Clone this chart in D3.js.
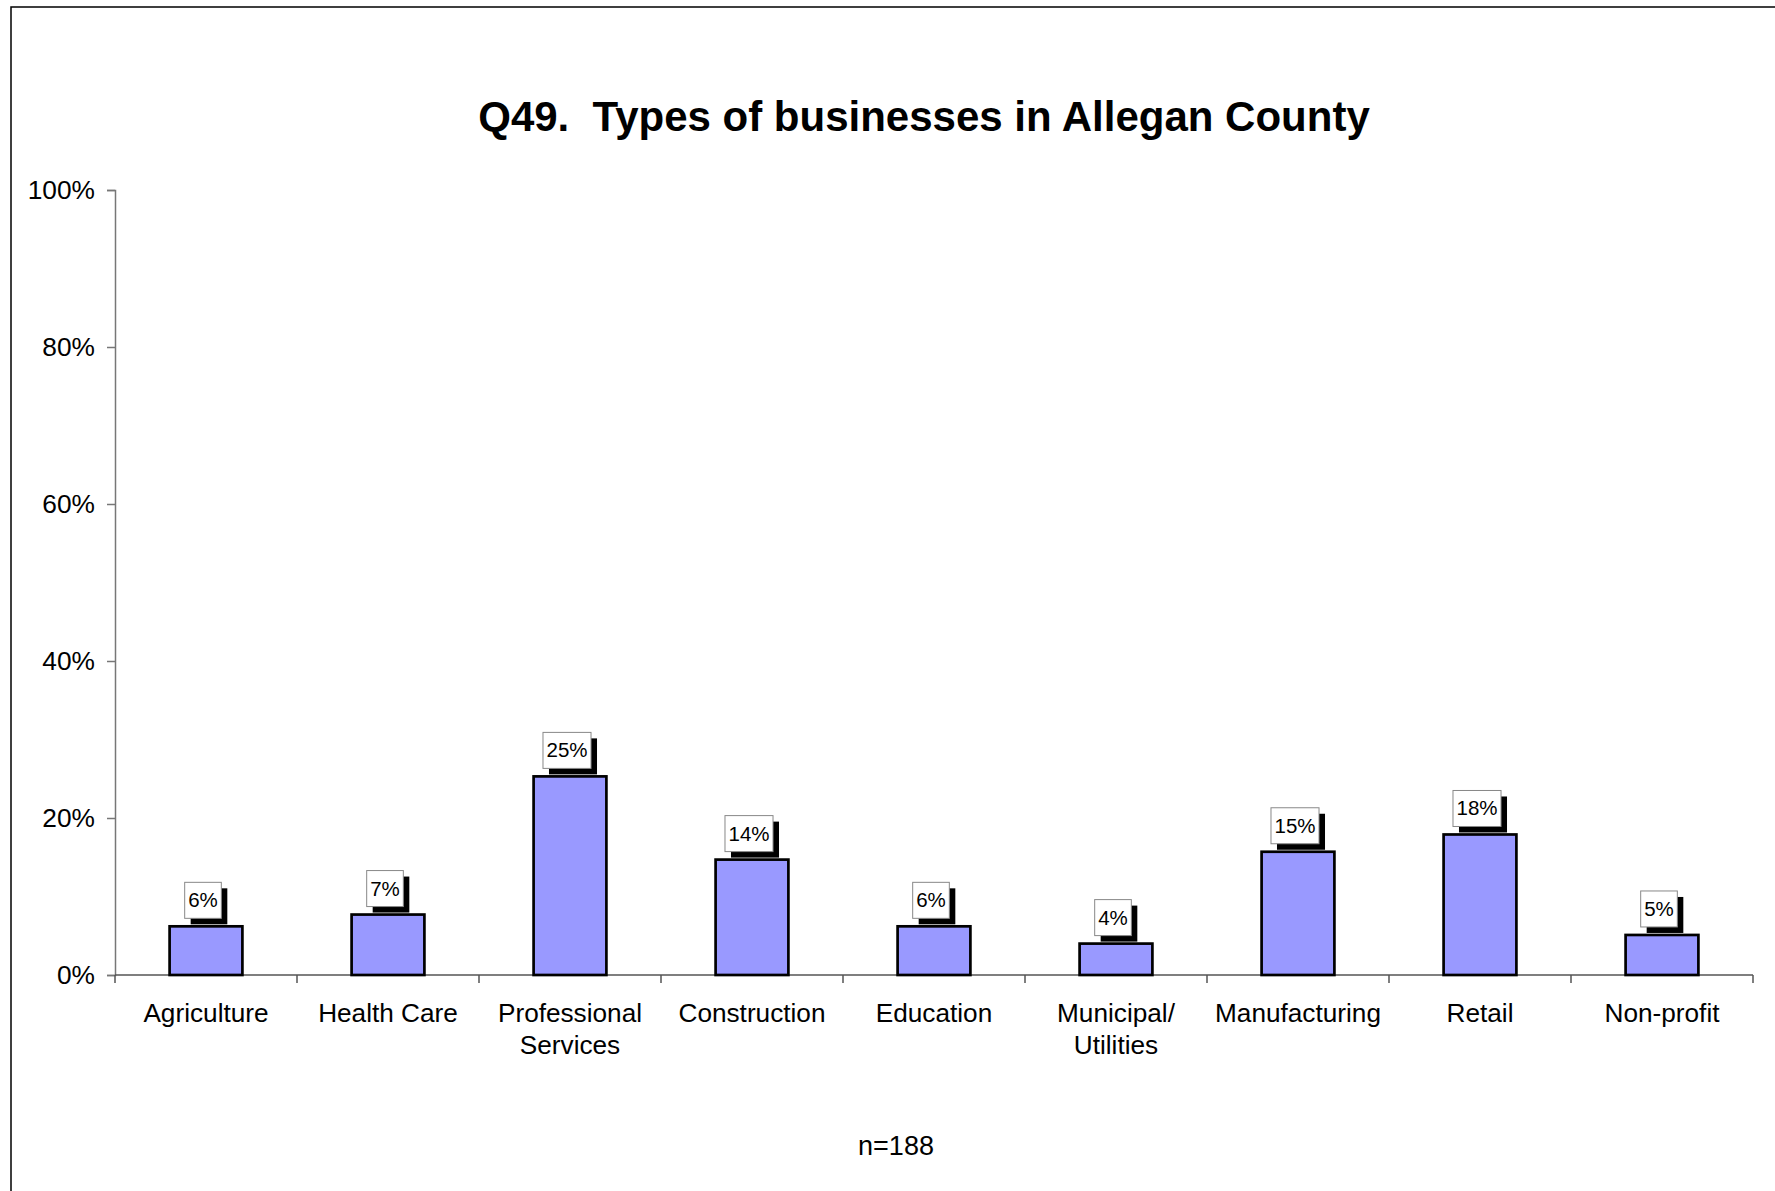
<!DOCTYPE html>
<html>
<head>
<meta charset="utf-8">
<script src="https://cdn.jsdelivr.net/npm/d3@7"></script>
<style>
  html, body { margin: 0; padding: 0; background: #fff; }
  svg { display: block; font-family: "Liberation Sans", Arial, sans-serif; }
</style>
</head>
<body>
<script>
const categories = ["Agriculture", "Health Care", "Professional\nServices", "Construction", "Education", "Municipal/\nUtilities", "Manufacturing", "Retail", "Non-profit"];
const values = [6.2, 7.7, 25.3, 14.7, 6.2, 4.0, 15.7, 17.9, 5.1];
const valueLabels = ["6%", "7%", "25%", "14%", "6%", "4%", "15%", "18%", "5%"];
const yTicks = [0, 20, 40, 60, 80, 100];
const titleText = "Q49.  Types of businesses in Allegan County";
const noteText = "n=188";

(function () {
const W = 1775, H = 1191;
const svg = d3.select("body").append("svg").attr("width", W).attr("height", H);

// frame (extends past right/bottom edges)
svg.append("rect").attr("x", 11).attr("y", 7).attr("width", W + 20).attr("height", H + 20)
  .attr("fill", "#fff").attr("stroke", "#000").attr("stroke-width", 1.5);

const mLeft = 115, mRight = 1753, mTop = 190, mBottom = 975;
const x = d3.scaleBand().domain(d3.range(categories.length)).range([mLeft, mRight]).paddingInner(0).paddingOuter(0);
const y = d3.scaleLinear().domain([0, 100]).range([mBottom, mTop]);

svg.append("text").attr("x", 924).attr("y", 131).attr("text-anchor", "middle")
  .attr("font-size", 42).attr("font-weight", "bold")
  .style("white-space", "pre").text(titleText);

// y axis
const yAxis = svg.append("g").attr("transform", `translate(${mLeft},0)`)
  .call(d3.axisLeft(y).tickValues(yTicks).tickFormat(d => d + "%").tickSize(8).tickPadding(12));
yAxis.select(".domain").attr("stroke", "#777").attr("stroke-width", 1.5);
yAxis.selectAll(".tick line").attr("stroke", "#777").attr("stroke-width", 1.5);
yAxis.selectAll(".tick text").attr("font-size", 26.3).attr("fill", "#000")
  .attr("font-family", "'Liberation Sans', Arial, sans-serif");

// x axis
const xAxisG = svg.append("g").attr("transform", `translate(0,${mBottom})`);
xAxisG.append("line").attr("x1", mLeft).attr("x2", mRight).attr("stroke", "#555").attr("stroke-width", 1.5);
const boundaries = d3.range(categories.length + 1).map(i => i < categories.length ? x(i) : x(i - 1) + x.bandwidth());
xAxisG.selectAll("line.tk").data(boundaries).join("line").attr("class", "tk")
  .attr("x1", d => d).attr("x2", d => d).attr("y1", 0).attr("y2", 8)
  .attr("stroke", "#555").attr("stroke-width", 1.5);

const xl = svg.append("g").selectAll("text").data(categories).join("text")
  .attr("text-anchor", "middle").attr("font-size", 26.2).attr("fill", "#000");
xl.each(function(d, i) {
  const cx = x(i) + x.bandwidth() / 2;
  d3.select(this).selectAll("tspan").data(d.split("\n")).join("tspan")
    .attr("x", cx).attr("y", (t, j) => 1022 + j * 31.5).text(t => t);
});

// bars
const bw = x.bandwidth() * 0.4;
svg.append("g").selectAll("rect").data(values).join("rect")
  .attr("x", (d, i) => x(i) + (x.bandwidth() - bw) / 2)
  .attr("y", d => y(d))
  .attr("width", bw)
  .attr("height", d => mBottom - y(d))
  .attr("fill", "#9999FF").attr("stroke", "#000").attr("stroke-width", 2.7);

// value labels
const lg = svg.append("g");
values.forEach((v, i) => {
  const cx = x(i) + x.bandwidth() / 2;
  const g = lg.append("g");
  const t = g.append("text").attr("font-size", 20.5).attr("text-anchor", "middle").attr("fill", "#000").text(valueLabels[i]);
  const tw = t.node().getComputedTextLength();
  const bwid = tw + 7, bh = 36, sh = 6;
  const bx = cx - 3 - bwid / 2;
  const by = y(v) - 8 - bh;
  g.insert("rect", "text").attr("x", bx + sh).attr("y", by + sh).attr("width", bwid).attr("height", bh).attr("fill", "#000");
  g.insert("rect", "text").attr("x", bx).attr("y", by).attr("width", bwid).attr("height", bh)
    .attr("fill", "#fff").attr("stroke", "#888").attr("stroke-width", 1);
  t.attr("x", bx + bwid / 2).attr("y", by + bh / 2 + 7);
});

svg.append("text").attr("x", 896).attr("y", 1155).attr("text-anchor", "middle")
  .attr("font-size", 27).attr("fill", "#000").text(noteText);
})();
</script>
</body>
</html>
